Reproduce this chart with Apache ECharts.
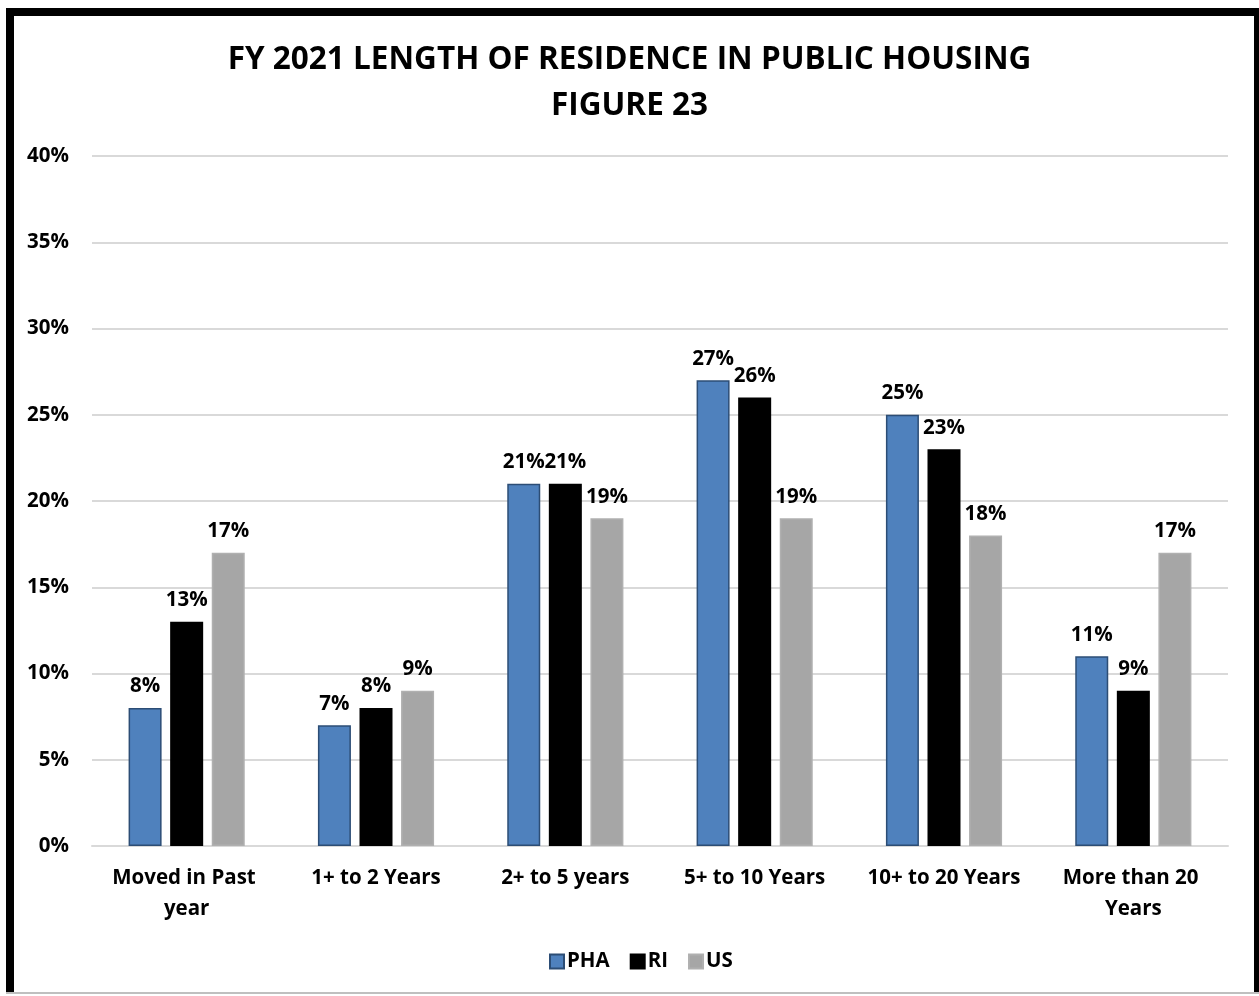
<!DOCTYPE html>
<html>
<head>
<meta charset="utf-8">
<title>FY 2021 Length of Residence in Public Housing</title>
<script src="https://cdn.jsdelivr.net/npm/echarts@6/dist/echarts.min.js"></script>
<style>
  html, body { margin: 0; padding: 0; background: #ffffff; }
  #chart { width: 1259px; height: 996px; }
</style>
</head>
<body>
<div id="chart"></div>
<script>
// Length-of-residence groups and share of households in each (percent)
const categories = ['Moved in Past year', '1+ to 2 Years', '2+ to 5 years', '5+ to 10 Years', '10+ to 20 Years', 'More than 20 Years'];
const seriesNames = ['PHA', 'RI', 'US'];
const phaValues = [8, 7, 21, 27, 25, 11];
const riValues = [13, 8, 21, 26, 23, 9];
const usValues = [17, 9, 19, 19, 18, 17];
const yTicks = [0, 5, 10, 15, 20, 25, 30, 35, 40];

const FONT = '"Open Sans", Lato, sans-serif';
const TXT = 20.5;

const chart = echarts.init(document.getElementById('chart'), null, { renderer: 'canvas' });

const labelStyle = {
  show: true,
  position: 'top',
  distance: 11,
  formatter: p => p.value + '%',
  fontFamily: FONT,
  fontWeight: 'bold',
  fontSize: TXT,
  color: '#000'
};

function barSeries(name, data, fill, border) {
  return {
    name: name,
    type: 'bar',
    data: data,
    barWidth: 33,
    barGap: '26%',
    itemStyle: { color: fill, borderColor: border, borderWidth: 1.5 },
    label: labelStyle,
    emphasis: { disabled: true }
  };
}

chart.setOption({
  animation: false,
  backgroundColor: '#ffffff',
  title: {
    text: 'FY 2021 LENGTH OF RESIDENCE IN PUBLIC HOUSING\nFIGURE 23',
    left: 'center',
    top: 32,
    textStyle: {
      fontFamily: FONT,
      fontWeight: 'bold',
      fontSize: 31.5,
      lineHeight: 46,
      color: '#000'
    }
  },
  legend: {
    data: seriesNames,
    bottom: 19,
    left: 544,
    itemWidth: 14,
    itemHeight: 14,
    itemGap: 20,
    icon: 'rect',
    textStyle: { fontFamily: FONT, fontWeight: 'bold', fontSize: TXT, color: '#000', padding: [0, 0, 0, -2] }
  },
  grid: { left: 92, right: 31, top: 156, bottom: 150 },
  xAxis: {
    type: 'category',
    data: categories,
    axisLine: { show: true, lineStyle: { color: '#d9d9d9', width: 2 } },
    axisTick: { show: false },
    axisLabel: {
      interval: 0,
      margin: 17,
      width: 165,
      overflow: 'break',
      lineHeight: 31,
      fontFamily: FONT,
      fontWeight: 'bold',
      fontSize: TXT,
      color: '#000'
    }
  },
  yAxis: {
    type: 'value',
    min: yTicks[0],
    max: yTicks[yTicks.length - 1],
    interval: 5,
    axisLine: { show: false },
    axisTick: { show: false },
    splitLine: { lineStyle: { color: '#d9d9d9', width: 2 } },
    axisLabel: {
      margin: 23,
      formatter: v => v + '%',
      fontFamily: FONT,
      fontWeight: 'bold',
      fontSize: TXT,
      color: '#000'
    }
  },
  series: [
    barSeries('PHA', phaValues, '#4f81bd', '#2c4d75'),
    barSeries('RI', riValues, '#000000', '#000000'),
    barSeries('US', usValues, '#a6a6a6', '#b0b0b0')
  ],
  graphic: [
    // heavy frame around the figure
    { type: 'rect', shape: { x: 6, y: 8, width: 1253, height: 8 }, style: { fill: '#000' }, silent: true },
    { type: 'rect', shape: { x: 6, y: 8, width: 8, height: 985 }, style: { fill: '#000' }, silent: true },
    { type: 'rect', shape: { x: 1254, y: 8, width: 5, height: 985 }, style: { fill: '#000' }, silent: true },
    { type: 'rect', shape: { x: 6, y: 992, width: 1253, height: 2 }, style: { fill: '#bfbfbf' }, silent: true }
  ]
});
</script>
</body>
</html>
